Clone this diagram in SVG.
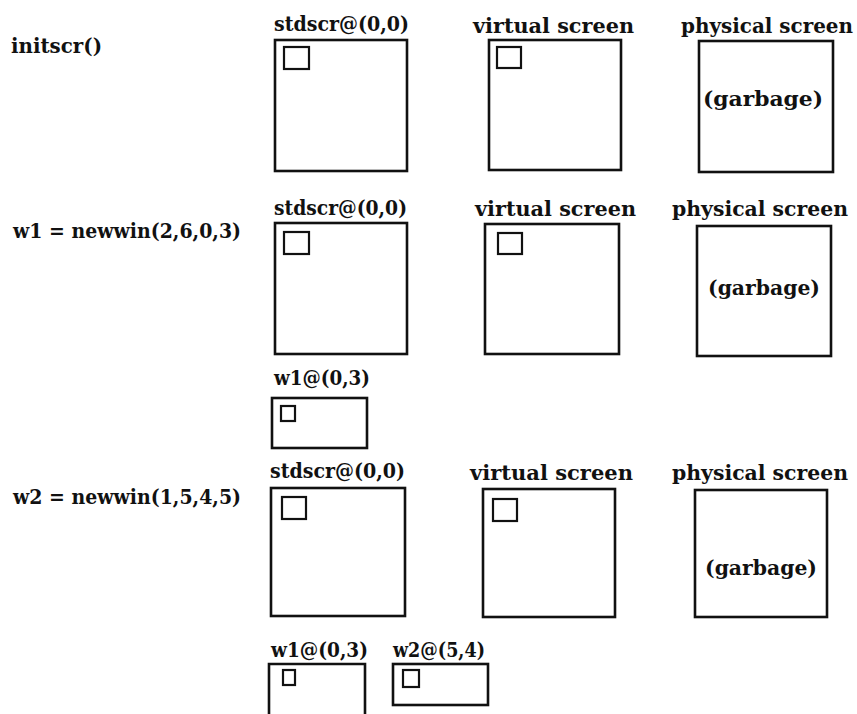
<svg xmlns="http://www.w3.org/2000/svg" width="857" height="714" viewBox="0 0 857 714">
  <style>
    text { font-family: "DejaVu Serif", "Liberation Serif", serif; font-weight: bold; font-size: 20px; fill: #111; }
    .scr { fill: none; stroke: #111; stroke-width: 2.6; }
    .cur { fill: none; stroke: #111; stroke-width: 2.2; }
  </style>
  <rect width="857" height="714" fill="#fff"/>

  <!-- Step 1: initscr() -->
  <g id="call-initscr"><text x="11" y="53" textLength="91" lengthAdjust="spacingAndGlyphs">initscr()</text></g>
  <g id="stdscr-1">
    <text x="274" y="31" textLength="135" lengthAdjust="spacingAndGlyphs">stdscr@(0,0)</text>
    <rect class="scr" x="275" y="40" width="132" height="131"/>
    <rect class="cur" x="284" y="47" width="25" height="22"/>
  </g>
  <g id="virtual-1">
    <text x="473" y="33" textLength="161" lengthAdjust="spacingAndGlyphs">virtual screen</text>
    <rect class="scr" x="489" y="40" width="132" height="130"/>
    <rect class="cur" x="497" y="47" width="24" height="21"/>
  </g>
  <g id="physical-1">
    <text x="681" y="33" textLength="172" lengthAdjust="spacingAndGlyphs">physical screen</text>
    <rect class="scr" x="699" y="41" width="134" height="131"/>
    <text x="703" y="106" textLength="120" lengthAdjust="spacingAndGlyphs">(garbage)</text>
  </g>

  <!-- Step 2: w1 = newwin(2,6,0,3) -->
  <g id="call-newwin-w1"><text x="13" y="238" textLength="228" lengthAdjust="spacingAndGlyphs">w1 = newwin(2,6,0,3)</text></g>
  <g id="stdscr-2">
    <text x="274" y="215" textLength="133" lengthAdjust="spacingAndGlyphs">stdscr@(0,0)</text>
    <rect class="scr" x="275" y="223" width="132" height="131"/>
    <rect class="cur" x="284" y="232" width="25" height="22"/>
  </g>
  <g id="virtual-2">
    <text x="475" y="216" textLength="161" lengthAdjust="spacingAndGlyphs">virtual screen</text>
    <rect class="scr" x="485" y="224" width="134" height="130"/>
    <rect class="cur" x="498" y="233" width="24" height="21"/>
  </g>
  <g id="physical-2">
    <text x="672" y="216" textLength="176" lengthAdjust="spacingAndGlyphs">physical screen</text>
    <rect class="scr" x="697" y="226" width="134" height="130"/>
    <text x="708" y="295" textLength="112" lengthAdjust="spacingAndGlyphs">(garbage)</text>
  </g>
  <g id="w1-2">
    <text x="274" y="385" textLength="96" lengthAdjust="spacingAndGlyphs">w1@(0,3)</text>
    <rect class="scr" x="272" y="398" width="95" height="50"/>
    <rect class="cur" x="281" y="406" width="14" height="15"/>
  </g>

  <!-- Step 3: w2 = newwin(1,5,4,5) -->
  <g id="call-newwin-w2"><text x="13" y="504" textLength="228" lengthAdjust="spacingAndGlyphs">w2 = newwin(1,5,4,5)</text></g>
  <g id="stdscr-3">
    <text x="270" y="478" textLength="135" lengthAdjust="spacingAndGlyphs">stdscr@(0,0)</text>
    <rect class="scr" x="271" y="488" width="134" height="128"/>
    <rect class="cur" x="282" y="497" width="24" height="22"/>
  </g>
  <g id="virtual-3">
    <text x="470" y="480" textLength="163" lengthAdjust="spacingAndGlyphs">virtual screen</text>
    <rect class="scr" x="483" y="489" width="132" height="128"/>
    <rect class="cur" x="493" y="499" width="24" height="22"/>
  </g>
  <g id="physical-3">
    <text x="672" y="480" textLength="176" lengthAdjust="spacingAndGlyphs">physical screen</text>
    <rect class="scr" x="695" y="490" width="132" height="127"/>
    <text x="705" y="575" textLength="112" lengthAdjust="spacingAndGlyphs">(garbage)</text>
  </g>
  <g id="w1-3">
    <text x="271" y="657" textLength="97" lengthAdjust="spacingAndGlyphs">w1@(0,3)</text>
    <path class="scr" d="M269,716 V664 H365 V716"/>
    <rect class="cur" x="283" y="670" width="12" height="15"/>
  </g>
  <g id="w2-3">
    <text x="393" y="657" textLength="92" lengthAdjust="spacingAndGlyphs">w2@(5,4)</text>
    <rect class="scr" x="393" y="664" width="95" height="41"/>
    <rect class="cur" x="403" y="670" width="16" height="17"/>
  </g>
</svg>
